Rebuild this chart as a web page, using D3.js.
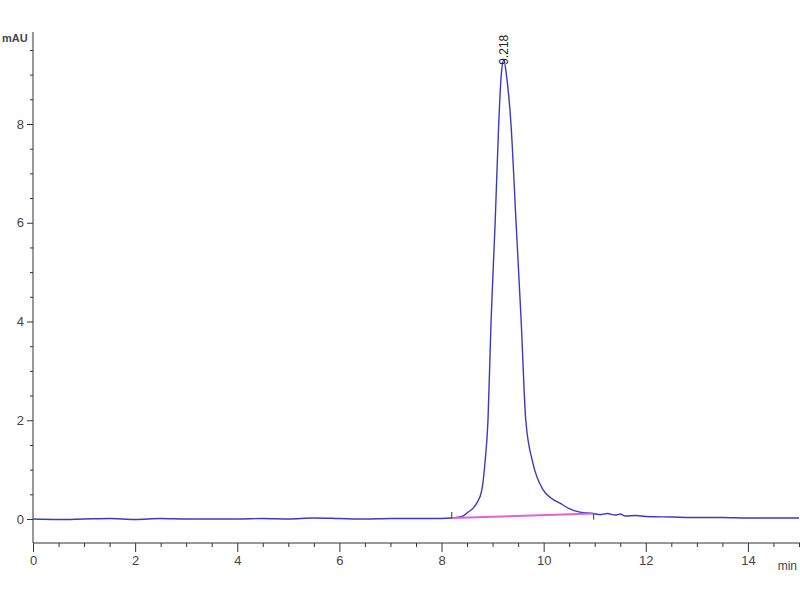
<!DOCTYPE html>
<html>
<head>
<meta charset="utf-8">
<script src="https://cdn.jsdelivr.net/npm/d3@7"></script>
<style>
  body { margin: 0; background: #fff; }
  svg { display: block; }
  text { font-family: "Liberation Sans Narrow", "Arial Narrow", "Liberation Sans", sans-serif; }
</style>
</head>
<body>
<svg width="800" height="600"></svg>
<script>
// chromatogram trace (min, mAU)
const times = [0, 0.5, 1, 1.5, 2, 2.5, 3, 3.5, 4, 4.5, 5, 5.5, 6, 6.5, 7, 7.5, 8, 8.2,
  8.4, 8.52, 8.62, 8.69, 8.79, 8.85, 8.91, 8.97, 9.05, 9.12, 9.17, 9.22, 9.27, 9.36,
  9.46, 9.56, 9.65, 9.79, 9.99, 10.15, 10.32, 10.5, 10.71, 10.98, 11.1, 11.25, 11.4,
  11.5, 11.6, 11.8, 12, 12.5, 13, 13.5, 14, 14.5, 15];
const absorb = [0, -0.01, 0, 0.01, -0.01, 0.01, 0, 0, 0, 0.01, 0, 0.02, 0.01, 0, 0.01, 0.01, 0.01, 0.02,
  0.05, 0.14, 0.22, 0.32, 0.59, 1.13, 2.0, 4.0, 6.0, 8.0, 9.0, 9.3, 9.0, 8.0,
  6.0, 4.0, 2.0, 1.13, 0.59, 0.42, 0.32, 0.21, 0.14, 0.11, 0.09, 0.11, 0.08,
  0.1, 0.06, 0.07, 0.05, 0.04, 0.03, 0.03, 0.02, 0.02, 0.02];

// integration baseline and peak label
const baseT = [8.2, 10.98];
const baseV = [0.02, 0.11];
const peakT = 9.218;
const peakV = 9.3;

const yMajor = [0, 2, 4, 6, 8];
const xMajor = [0, 2, 4, 6, 8, 10, 12, 14];

const svg = d3.select("svg");

const x = d3.scaleLinear().domain([0, 15.02]).range([33, 800]);
const y = d3.scaleLinear().domain([-0.486, 9.863]).range([543, 32]);

const yMinor = d3.range(0, 9.6, 0.5).filter(v => !yMajor.includes(v));
const xMinor = d3.range(0, 15.01, 0.5).filter(v => !xMajor.includes(v));

// axes
const axisColor = "#333";
const gy = svg.append("g").attr("transform", "translate(33,0)");
gy.call(d3.axisLeft(y).tickValues(yMinor).tickSize(3).tickFormat(""));
gy.call(g => g.select(".domain").remove());
const gyMaj = svg.append("g").attr("transform", "translate(33,0)")
  .call(d3.axisLeft(y).tickValues(yMajor).tickSize(6).tickPadding(3).tickFormat(d3.format("d")));
gyMaj.select(".domain").attr("d", "M0,32V543");

const gx = svg.append("g").attr("transform", "translate(0,543)");
gx.call(d3.axisBottom(x).tickValues(xMinor).tickSize(4).tickFormat(""));
gx.call(g => g.select(".domain").remove());
const gxMaj = svg.append("g").attr("transform", "translate(0,543)")
  .call(d3.axisBottom(x).tickValues(xMajor).tickSize(9).tickPadding(4).tickFormat(d3.format("d")));
gxMaj.select(".domain").attr("d", "M33,0H800");

svg.selectAll(".domain, .tick line").attr("stroke", axisColor).attr("stroke-width", 1);
svg.selectAll(".tick text").attr("fill", "#444").attr("font-size", 13);

svg.append("text").attr("x", 2).attr("y", 42).attr("fill", "#444")
  .attr("font-size", 11).attr("font-weight", "bold").text("mAU");
svg.append("text").attr("x", 797).attr("y", 570).attr("fill", "#444")
  .attr("text-anchor", "end").attr("font-size", 12).text("min");

// trace
const pts = times.map((t, i) => [t, absorb[i]]);
const line = d3.line().x(d => x(d[0])).y(d => y(d[1])).curve(d3.curveMonotoneX);
svg.append("path").datum(pts).attr("d", line)
  .attr("fill", "none").attr("stroke", "#3a3ac4").attr("stroke-width", 1.4);

// integration baseline
svg.append("line")
  .attr("x1", x(baseT[0])).attr("y1", y(baseV[0]))
  .attr("x2", x(baseT[1])).attr("y2", y(baseV[1]))
  .attr("stroke", "#e060e0").attr("stroke-width", 2);
svg.append("line").attr("x1", x(baseT[0])).attr("x2", x(baseT[0]))
  .attr("y1", y(baseV[0]) - 6).attr("y2", y(baseV[0]))
  .attr("stroke", "#333").attr("stroke-width", 1);
svg.append("line").attr("x1", x(baseT[1])).attr("x2", x(baseT[1]))
  .attr("y1", y(baseV[1])).attr("y2", y(baseV[1]) + 6)
  .attr("stroke", "#333").attr("stroke-width", 1);

// peak label
svg.append("text")
  .attr("transform", `translate(${x(peakT) + 4},${y(peakV) + 5}) rotate(-90)`)
  .attr("fill", "#222").attr("font-size", 12).text(peakT.toFixed(3));
</script>
</body>
</html>
